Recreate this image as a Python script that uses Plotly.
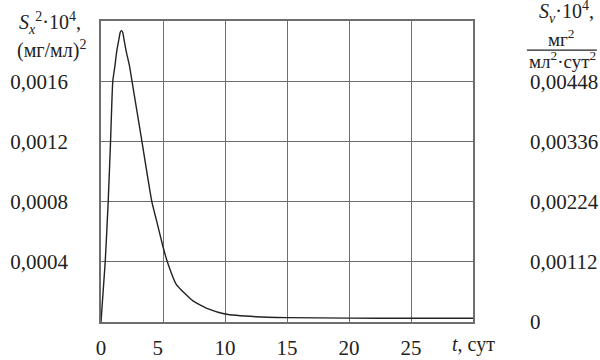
import plotly.graph_objects as go

# data
t_days = [0, 0.34, 0.58, 0.77, 0.95, 1.12, 1.27, 1.47, 1.55, 1.65, 1.75, 1.83,
          2.03, 2.3, 2.5, 3.3, 4.1, 4.46, 5.0, 5.35, 6.07, 7.42, 8.7, 10,
          12.5, 15, 20, 25, 30]
s_x2 = [0, 0.0004, 0.0008, 0.0012, 0.0016, 0.0017, 0.0018, 0.00189, 0.001925,
        0.001936, 0.001925, 0.00189, 0.0018, 0.0017, 0.0016, 0.0012, 0.0008,
        0.00068, 0.0005, 0.0004, 0.00025, 0.00014, 0.000085,
        0.000053, 0.000035, 0.000029, 0.000026, 0.000025, 0.000025]

x_ticks = [0, 5, 10, 15, 20, 25]
x_ticklabels = ["0", "5\u2002", "10", "15", "20", "25"]
y_ticks = [0.0004, 0.0008, 0.0012, 0.0016]
y_ticklabels = ["0,0004", "0,0008", "0,0012", "0,0016"]
y2_ticks = [0, 0.00112, 0.00224, 0.00336, 0.00448]
y2_ticklabels = ["0", "0,00112", "0,00224", "0,00336", "0,00448"]

FONT = "Liberation Serif"
GRID = "#6e6e6e"
TXT = "#222222"

fig = go.Figure()
fig.add_trace(go.Scatter(x=t_days, y=s_x2, mode="lines",
                         line=dict(color=TXT, width=1.4, shape="spline", smoothing=0.5),
                         showlegend=False, hoverinfo="skip"))
# invisible trace to activate y2
fig.add_trace(go.Scatter(x=[0], y=[0], yaxis="y2", mode="markers",
                         marker=dict(opacity=0), showlegend=False, hoverinfo="skip"))

tickfont = dict(family=FONT, size=21, color=TXT)
fig.update_layout(
    width=600, height=360,
    margin=dict(l=101, r=127, t=21, b=38),
    paper_bgcolor="white", plot_bgcolor="white",
    font=dict(family=FONT, size=20, color=TXT),
    xaxis=dict(range=[0, 30], tickvals=x_ticks, ticktext=x_ticklabels,
               showgrid=True, gridcolor=GRID, gridwidth=1, zeroline=False,
               showline=True, linecolor=GRID, linewidth=1.5, mirror=True,
               ticks="", ticklabelstandoff=6, tickfont=tickfont, automargin=False),
    yaxis=dict(range=[0, 0.002], tickvals=y_ticks, ticktext=y_ticklabels,
               showgrid=True, gridcolor=GRID, gridwidth=1, zeroline=False,
               showline=True, linecolor=GRID, linewidth=1.5, mirror=True,
               ticks="", ticklabelstandoff=27, tickfont=tickfont, automargin=False),
    yaxis2=dict(range=[0, 0.0056], overlaying="y", side="right",
                tickvals=y2_ticks, ticktext=y2_ticklabels,
                showgrid=False, zeroline=False, showline=False, ticks="",
                ticklabelstandoff=56, tickfont=tickfont, automargin=False),
)

ann = dict(xref="paper", yref="paper", showarrow=False)
f20 = dict(family=FONT, size=20, color=TXT)
f19 = dict(family=FONT, size=19, color=TXT)
fig.add_annotation(text="<i>S</i><sub><i>x</i></sub><sup>2</sup>·10<sup>4</sup>,",
                   x=-0.137, y=0.995, xanchor="center", yanchor="middle", font=f20, **ann)
fig.add_annotation(text="(мг/мл)<sup>2</sup>",
                   x=-0.132, y=0.905, xanchor="center", yanchor="middle", font=f20, **ann)
fig.add_annotation(text="<i>S</i><sub><i>v</i></sub>·10<sup>4</sup>,",
                   x=1.25, y=1.03, xanchor="center", yanchor="middle", font=f20, **ann)
fig.add_annotation(text="мг<sup>2</sup>",
                   x=1.237, y=0.945, xanchor="center", yanchor="middle", font=f19, **ann)
fig.add_annotation(text="мл<sup>2</sup>·сут<sup>2</sup>",
                   x=1.24, y=0.872, xanchor="center", yanchor="middle", font=f19, **ann)
fig.add_shape(type="line", xref="paper", yref="paper",
              x0=1.145, x1=1.333, y0=0.903, y1=0.903, line=dict(color=TXT, width=1.2))
fig.add_annotation(text="<i>t</i>, сут",
                   x=1.0, y=-0.076, xanchor="center", yanchor="middle", font=f20, **ann)

fig.write_html("out.html", config={"displayModeBar": False},
               post_script="document.body.style.margin='0';document.body.style.overflow='hidden';")
